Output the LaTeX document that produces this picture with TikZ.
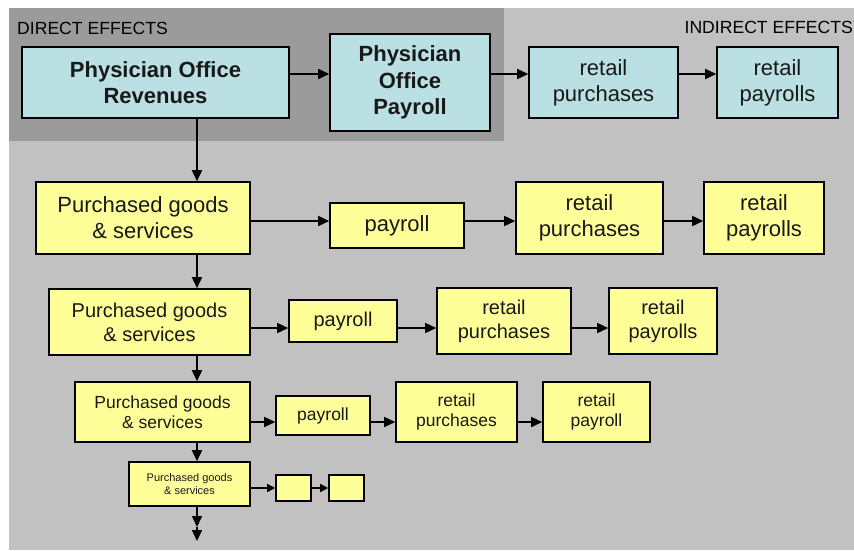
\documentclass[tikz,border=0pt]{standalone}
\usepackage{fontspec}
\setmainfont{Liberation Sans}
\usetikzlibrary{arrows.meta}

\definecolor{officecyan}{RGB}{186,224,228}
\definecolor{officeyellow}{RGB}{255,255,153}
\definecolor{directgray}{RGB}{155,155,155}
\definecolor{indirectgray}{RGB}{193,193,193}

\begin{document}
\begin{tikzpicture}[
  x=1pt,y=-1pt,
  box/.style={draw,line width=1.6pt,inner sep=0pt,align=center,text=black!90},
  direct/.style={box,fill=officecyan},
  indirect/.style={box,fill=officeyellow},
  big/.style={font=\fontsize{22}{26}\selectfont},
  mid/.style={font=\fontsize{20}{24}\selectfont},
  small/.style={font=\fontsize{17.5}{20.5}\selectfont},
  tiny/.style={font=\fontsize{11}{13.5}\selectfont},
  effect/.style={font=\fontsize{17.6}{20}\selectfont,inner sep=0pt},
  to/.style={-{Triangle[length=11pt,width=10pt]},line width=1.6pt}]

  \useasboundingbox (0,0) rectangle (854,550);

  % Shaded areas
  \fill[indirectgray] (9,8) rectangle (854,550);
  \fill[directgray] (9,8) rectangle (504,141);
  \node[effect,anchor=west] (directlabel) at (17,28) {DIRECT EFFECTS};
  \node[effect,anchor=east] (indirectlabel) at (853,27) {INDIRECT EFFECTS};

  % Direct effects row
  \node[direct,big,font=\bfseries\fontsize{22}{26}\selectfont,
    minimum width=267pt,minimum height=71pt] (rev) at (155.5,82.5)
    {Physician Office\\Revenues};
  \node[direct,font=\bfseries\fontsize{22}{26.5}\selectfont,
    minimum width=160pt,minimum height=97pt] (officepay) at (410,82.5)
    {Physician\\Office\\Payroll};
  \node[direct,big,minimum width=149pt,minimum height=71pt] (topretail) at (603.5,82.5)
    {retail\\purchases};
  \node[direct,big,minimum width=121pt,minimum height=71pt] (toppayrolls) at (777.5,82.5)
    {retail\\payrolls};

  % Rounds of purchased goods
  \node[indirect,big,minimum width=214pt,minimum height=72pt] (goods1) at (143,218)
    {Purchased goods\\\& services};
  \node[indirect,big,minimum width=134pt,minimum height=45pt] (pay1) at (397,225.5) {payroll};
  \node[indirect,big,minimum width=147pt,minimum height=72pt] (retail1) at (589.5,218)
    {retail\\purchases};
  \node[indirect,big,minimum width=120pt,minimum height=72pt] (payrolls1) at (764,218)
    {retail\\payrolls};

  \node[indirect,mid,minimum width=201pt,minimum height=66pt] (goods2) at (149.5,322)
    {Purchased goods\\\& services};
  \node[indirect,mid,minimum width=108pt,minimum height=42pt] (pay2) at (343,321) {payroll};
  \node[indirect,mid,minimum width=134pt,minimum height=66pt] (retail2) at (504,321)
    {retail\\purchases};
  \node[indirect,mid,minimum width=108pt,minimum height=66pt] (payrolls2) at (663,321)
    {retail\\payrolls};

  \node[indirect,small,minimum width=175pt,minimum height=60pt] (goods3) at (162.5,412)
    {Purchased goods\\\& services};
  \node[indirect,small,minimum width=94pt,minimum height=39pt] (pay3) at (323,415.5) {payroll};
  \node[indirect,small,minimum width=121pt,minimum height=60pt] (retail3) at (456.5,412)
    {retail\\purchases};
  \node[indirect,small,minimum width=107pt,minimum height=60pt] (payrolls3) at (596.5,412)
    {retail\\payroll};

  \node[indirect,tiny,minimum width=121pt,minimum height=44pt] (goods4) at (189.5,484)
    {Purchased goods\\\& services};
  \node[indirect,minimum width=35pt,minimum height=26pt] (pay4) at (293.5,488) {};
  \node[indirect,minimum width=35pt,minimum height=26pt] (retail4) at (346.5,488) {};

  % Where the connectors run
  \coordinate (spine) at (197,0);
  \coordinate (row0) at (0,74);
  \coordinate (row1) at (0,221);
  \coordinate (row2) at (0,328);
  \coordinate (row3) at (0,422);
  \coordinate (row4) at (0,488);
  \coordinate (tail1) at (197,527);
  \coordinate (tail2) at (197,541);

  \draw[to] (rev.east |- row0) -- (officepay.west |- row0);
  \draw[to] (officepay.east |- row0) -- (topretail.west |- row0);
  \draw[to] (topretail.east |- row0) -- (toppayrolls.west |- row0);

  \draw[to] (rev.south -| spine) -- (goods1.north -| spine);
  \draw[to] (goods1.south -| spine) -- (goods2.north -| spine);
  \draw[to] (goods2.south -| spine) -- (goods3.north -| spine);
  \draw[to] (goods3.south -| spine) -- (goods4.north -| spine);
  \draw[to] (goods4.south -| spine) -- (tail1);
  \draw[to] (tail1) -- (tail2);

  \draw[to] (goods1.east |- row1) -- (pay1.west |- row1);
  \draw[to] (pay1.east |- row1) -- (retail1.west |- row1);
  \draw[to] (retail1.east |- row1) -- (payrolls1.west |- row1);

  \draw[to] (goods2.east |- row2) -- (pay2.west |- row2);
  \draw[to] (pay2.east |- row2) -- (retail2.west |- row2);
  \draw[to] (retail2.east |- row2) -- (payrolls2.west |- row2);

  \draw[to] (goods3.east |- row3) -- (pay3.west |- row3);
  \draw[to] (pay3.east |- row3) -- (retail3.west |- row3);
  \draw[to] (retail3.east |- row3) -- (payrolls3.west |- row3);

  \draw[to,-{Triangle[length=8pt,width=8pt]}] (goods4.east |- row4) -- (pay4.west |- row4);
  \draw[to,-{Triangle[length=8pt,width=8pt]}] (pay4.east |- row4) -- (retail4.west |- row4);
\end{tikzpicture}
\end{document}
